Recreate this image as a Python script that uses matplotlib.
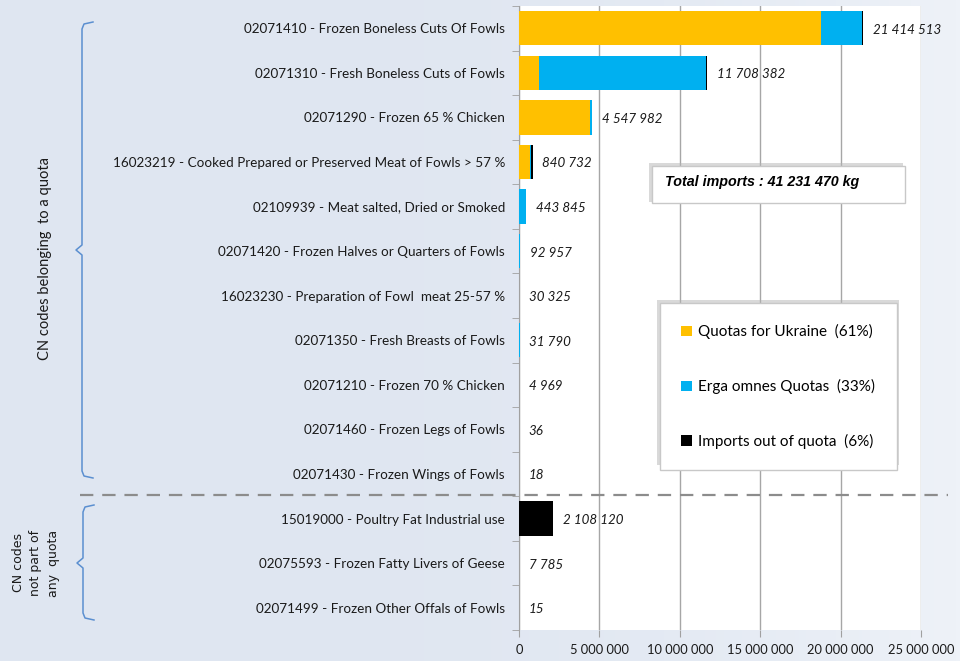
import matplotlib
matplotlib.use('Agg')
import matplotlib.pyplot as plt
import numpy as np
from matplotlib.patches import Patch, Rectangle
from matplotlib.lines import Line2D
from matplotlib.ticker import FuncFormatter

plt.rcParams['font.family'] = ['Lato', 'DejaVu Sans']

# CN codes, top to bottom
labels = [
    "02071410 - Frozen Boneless Cuts Of Fowls",
    "02071310 - Fresh Boneless Cuts of Fowls",
    "02071290 - Frozen 65 % Chicken",
    "16023219 - Cooked Prepared or Preserved Meat of Fowls > 57 %",
    "02109939 - Meat salted, Dried or Smoked",
    "02071420 - Frozen Halves or Quarters of Fowls",
    "16023230 - Preparation of Fowl  meat 25-57 %",
    "02071350 - Fresh Breasts of Fowls",
    "02071210 - Frozen 70 % Chicken",
    "02071460 - Frozen Legs of Fowls",
    "02071430 - Frozen Wings of Fowls",
    "15019000 - Poultry Fat Industrial use",
    "02075593 - Frozen Fatty Livers of Geese",
    "02071499 - Frozen Other Offals of Fowls",
]
totals = [21414513, 11708382, 4547982, 840732, 443845, 92957, 30325,
          31790, 4969, 36, 18, 2108120, 7785, 15]
# split (kg)
ukraine = [18780000, 1260000, 4420000, 680000, 0, 0, 20000, 0, 4969, 0, 0, 0, 0, 0]
erga = [2570000, 10370000, 110000, 50000, 443845, 80000, 0, 31790, 0, 0, 0, 0, 0, 0]
out_quota = [t - u - e for t, u, e in zip(totals, ukraine, erga)]

legend_labels = ["Quotas for Ukraine  (61%)", "Erga omnes Quotas  (33%)",
                 "Imports out of quota  (6%)"]
colors = ['#FFC000', '#00B0F0', '#000000']
x_ticks = [0, 5000000, 10000000, 15000000, 20000000, 25000000]

W, H = 960, 661
fig = plt.figure(figsize=(9.6, 6.61), dpi=100)


def fx(px):
    return px / W


def fy(py):
    return 1 - py / H


# background gradient
bg = fig.add_axes([0, 0, 1, 1], zorder=-10)
grad = np.linspace(0, 1, 256).reshape(1, -1) ** 3
bg.imshow(grad, aspect='auto', extent=[0, 1, 0, 1],
          cmap=matplotlib.colors.LinearSegmentedColormap.from_list('g', ['#dfe6f1', '#eef2f8']))
bg.axis('off')

ax = fig.add_axes([fx(519), fy(630), fx(921) - fx(519), fy(6) - fy(630)])
ax.set_facecolor('white')
y = np.arange(len(labels))
left = np.zeros(len(labels))
for vals, c in zip([ukraine, erga, out_quota], colors):
    ax.barh(y, vals, left=left, height=0.77, color=c, zorder=3)
    left += np.array(vals)

for i, t in enumerate(totals):
    ax.annotate(f"{t:,}".replace(',', ' '), xy=(t, i), xytext=(7, -1),
                textcoords='offset points', va='center', ha='left',
                style='italic', fontsize=9.6, color='#1a1a1a')

ax.set_ylim(len(labels) - 0.5, -0.5)
ax.set_xlim(0, 25000000)
ax.set_yticks(y)
ax.set_yticklabels(labels, fontsize=9.7, color='#1a1a1a')
ax.set_yticks(np.arange(-0.5, len(labels), 1), minor=True)
ax.tick_params(axis='y', which='major', length=0, pad=10)
ax.tick_params(axis='y', which='minor', length=5, color='#a0a0a0', direction='out')
ax.set_xticks(x_ticks)
ax.xaxis.set_major_formatter(FuncFormatter(lambda v, p: f"{int(v):,}".replace(',', ' ')))
ax.tick_params(axis='x', length=5, color='#a0a0a0', labelsize=9.3, pad=5,
               labelcolor='#1a1a1a')
ax.grid(axis='x', color='#a6a6a6', linewidth=1, zorder=0)
for s in ['top', 'right', 'bottom']:
    ax.spines[s].set_visible(False)
ax.spines['left'].set_color('#a0a0a0')

# separator between quota / non-quota codes
fig.add_artist(Line2D([fx(80), fx(948)], [fy(495), fy(495)], color='#8c8c8c',
                      linestyle=(0, (6, 4)), linewidth=1.6))


def bracket(x, y0, y1, ym, arm=11, tip=6):
    xs = [x + arm, x + 2, x, x, x - tip, x, x, x + 2, x + arm]
    ys = [y0, y0 + 2, y0 + 7, ym - 5, ym, ym + 5, y1 - 7, y1 - 2, y1]
    fig.add_artist(Line2D([fx(v) for v in xs], [fy(v) for v in ys],
                          color='#5b8fd0', linewidth=1.1))


bracket(82, 22, 478, 250)
bracket(83, 505, 620, 563)

fig.text(fx(45), fy(258), "CN codes belonging  to a quota", rotation=90,
         ha='center', va='center', fontsize=10.5, color='#1a1a1a')
fig.text(fx(36), fy(563), "CN codes\nnot part of\nany  quota", rotation=90,
         ha='center', va='center', fontsize=9, color='#1a1a1a',
         family='DejaVu Sans', linespacing=1.45, multialignment='center')

# total imports box
fig.add_artist(Rectangle((fx(649), fy(202)), fx(254), fy(163) - fy(202),
                         facecolor='#b4b4b4', edgecolor='none', alpha=0.5))
fig.add_artist(Rectangle((fx(652), fy(203)), fx(253), fy(166) - fy(203),
                         facecolor='white', edgecolor='#c8c8c8', linewidth=1))
fig.text(fx(665), fy(182), "Total imports : 41 231 470 kg", fontsize=10.3,
         fontweight='bold', style='italic', va='center', ha='left',
         family=['Liberation Sans', 'DejaVu Sans'])

# legend, shadow up-left like the original
fig.add_artist(Rectangle((fx(657), fy(465)), fx(242), fy(300) - fy(465),
                         facecolor='#b4b4b4', edgecolor='none', alpha=0.5))
handles = [Patch(facecolor=c, edgecolor='none') for c in colors]
leg = fig.legend(handles, legend_labels, loc='upper left',
                 bbox_to_anchor=(fx(660), fy(303)), frameon=True, shadow=False,
                 fontsize=11, labelspacing=2.6, handlelength=0.7,
                 handleheight=0.7, handletextpad=0.4, borderpad=1.4,
                 borderaxespad=0, fancybox=False, framealpha=1)
leg.get_frame().set_edgecolor('#c8c8c8')

fig.savefig('out.png', dpi=100)
